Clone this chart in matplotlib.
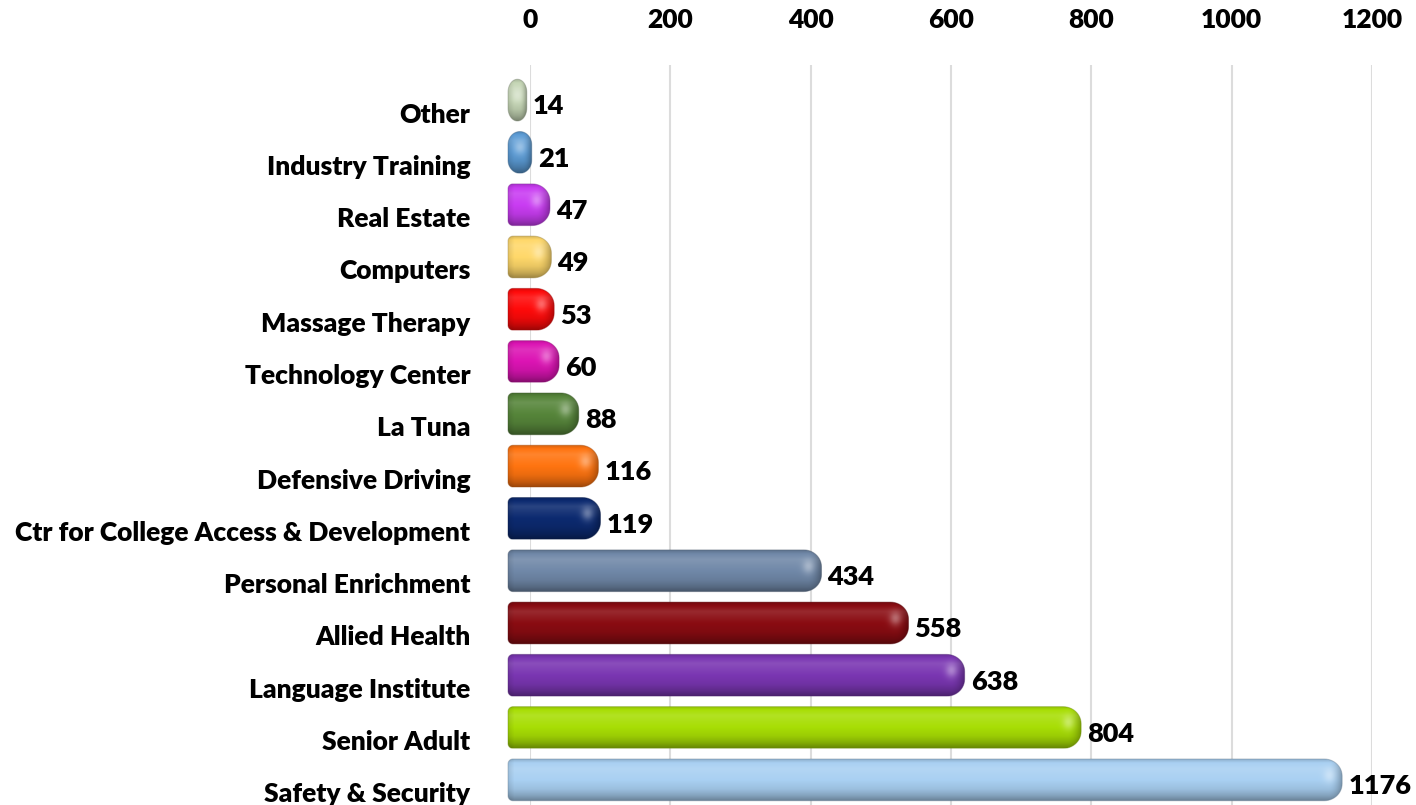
import numpy as np
import matplotlib
matplotlib.use("Agg")
import matplotlib.pyplot as plt
from matplotlib.path import Path
from matplotlib.patches import PathPatch
from matplotlib.transforms import IdentityTransform, ScaledTranslation
from matplotlib.colors import to_rgb

plt.rcParams['font.family'] = ['Lato', 'DejaVu Sans']
plt.rcParams['font.weight'] = 'heavy'

categories = ["Other", "Industry Training", "Real Estate", "Computers",
              "Massage Therapy", "Technology Center", "La Tuna",
              "Defensive Driving", "Ctr for College Access & Development",
              "Personal Enrichment", "Allied Health", "Language Institute",
              "Senior Adult", "Safety & Security"]
values = [14, 21, 47, 49, 53, 60, 88, 116, 119, 434, 558, 638, 804, 1176]
colors = ["#c5d6b5", "#5b9bd5", "#c93cf2", "#ffd86a", "#ff0a0a", "#dc14b4",
          "#56853a", "#ff7410", "#0c2a70", "#7088a8", "#8a0c12", "#7a36b2",
          "#a8de05", "#a9d0f2"]
x_ticks = [0, 200, 400, 600, 800, 1000, 1200]

W, H, DPI = 1416, 805, 100
fig = plt.figure(figsize=(W / DPI, H / DPI), dpi=DPI)
ax = fig.add_axes([530 / W, -1 / H, (1372 - 530) / W, (806 - 65) / H])
ax.set_xlim(0, 1200)
ax.set_ylim(len(categories) - 0.5, -0.672)
ax.set_autoscale_on(False)

for s in ax.spines.values():
    s.set_visible(False)
ax.xaxis.tick_top()
ax.set_xticks(x_ticks)
ax.set_xticklabels([str(t) for t in x_ticks], fontsize=19, fontweight='heavy')
ax.tick_params(axis='x', length=0, pad=24)
ax.set_yticks(range(len(categories)))
ax.set_yticklabels(categories, fontsize=19, fontweight='heavy')
ax.tick_params(axis='y', length=0, pad=43)
shift = ScaledTranslation(0, -0.125, fig.dpi_scale_trans)
for lab in ax.get_yticklabels():
    lab.set_transform(lab.get_transform() + shift)
ax.grid(axis='x', color='#dcdcdc', lw=1.5, zorder=0.5)
ax.set_axisbelow(True)


def corner(cx, cy, rx, ry, a0, a1, n=14):
    a = np.linspace(a0, a1, n)
    return np.column_stack([cx + rx * np.cos(a), cy + ry * np.sin(a)])


def bar_outline(x0, x1, y0, y1, rl, rr, ryl, ryr):
    # display coords: y0 bottom, y1 top
    pts = [
        corner(x1 - rr, y0 + ryr, rr, ryr, -np.pi / 2, 0),
        corner(x1 - rr, y1 - ryr, rr, ryr, 0, np.pi / 2),
        corner(x0 + rl, y1 - ryl, rl, ryl, np.pi / 2, np.pi),
        corner(x0 + rl, y0 + ryl, rl, ryl, np.pi, 1.5 * np.pi),
    ]
    v = np.vstack(pts + [pts[0][:1]])
    codes = [Path.MOVETO] + [Path.LINETO] * (len(v) - 2) + [Path.CLOSEPOLY]
    return Path(v, codes)


def shade(rgb, f):
    rgb = np.asarray(rgb)
    if f >= 1:
        return rgb + (1 - rgb) * (f - 1)
    return rgb * f


# vertical light profile of the cylinder, top (0) to bottom (1)
prof_t = np.array([0.0, 0.08, 0.22, 0.45, 0.72, 0.88, 1.0])
prof_f = np.array([0.85, 1.0, 1.12, 1.02, 0.92, 0.78, 0.62])

to_disp = ax.transData
inv = ax.transData.inverted()
row_px = abs(to_disp.transform((0, 0))[1] - to_disp.transform((0, 1))[1])
bar_h = 0.8 * row_px

for i, (v, c) in enumerate(zip(values, colors)):
    (xl, yc) = to_disp.transform((0, i))
    xr = to_disp.transform((v, i))[0]
    x0 = xl - 22
    x1 = xr - 13
    y0, y1 = yc - bar_h / 2, yc + bar_h / 2
    w = x1 - x0
    if w < 30:
        rl = rr = w / 2
        ryl = ryr = 13
    else:
        rl, rr = 5, 18
        ryl, ryr = 5, 17
    path = bar_outline(x0, x1, y0, y1, rl, rr, ryl, ryr)

    base = np.array(to_rgb(c))
    ny, nx = 48, max(int(w), 4)
    t = np.linspace(0, 1, ny)
    fv = np.interp(t, prof_t, prof_f)
    xs = np.linspace(0, w, nx)
    # darken toward the rounded right cap and slightly at the left end
    cap = np.clip((xs - (w - rr * 0.8)) / max(rr * 0.8, 1), 0, 1)
    fh = 1 - 0.3 * cap ** 2
    left = np.clip(1 - xs / 6, 0, 1)
    fh = fh - 0.1 * left
    img = np.zeros((ny, nx, 3))
    for r in range(ny):
        col = shade(base, fv[r])
        img[r] = np.clip(col[None, :] * fh[:, None], 0, 1)
    # soft specular glow near the right end
    gx = w - min(13, w / 2)
    gy = 0.38 * ny
    X, Y = np.meshgrid(xs, np.arange(ny))
    spot = np.exp(-(((X - gx) / 6.0) ** 2 + ((Y - gy) / 8.0) ** 2))
    img = img + (1 - img) * 0.35 * spot[:, :, None]

    (ex0, ey_top) = inv.transform((x0, y1))
    (ex1, ey_bot) = inv.transform((x1, y0))
    im = ax.imshow(img, extent=(ex0, ex1, ey_bot, ey_top), origin='upper',
                   aspect='auto', interpolation='bilinear', zorder=2)
    patch = PathPatch(path, transform=IdentityTransform(), facecolor='none',
                      edgecolor=shade(base, 0.6), lw=0.7, alpha=0.4, zorder=2.1)
    ax.add_patch(patch)
    patch.set_clip_on(False)
    im.set_clip_path(patch)
    im.set_clip_box(fig.bbox)

    ax.annotate(str(v), xy=(v, i), xytext=(-5, -4.5), textcoords='offset points',
                ha='left', va='center', fontsize=19.5, fontweight='heavy',
                color='black', annotation_clip=False)

ax.set_xlim(0, 1200)
ax.set_ylim(len(categories) - 0.5, -0.672)
fig.savefig("out.png", dpi=DPI, facecolor='white')
